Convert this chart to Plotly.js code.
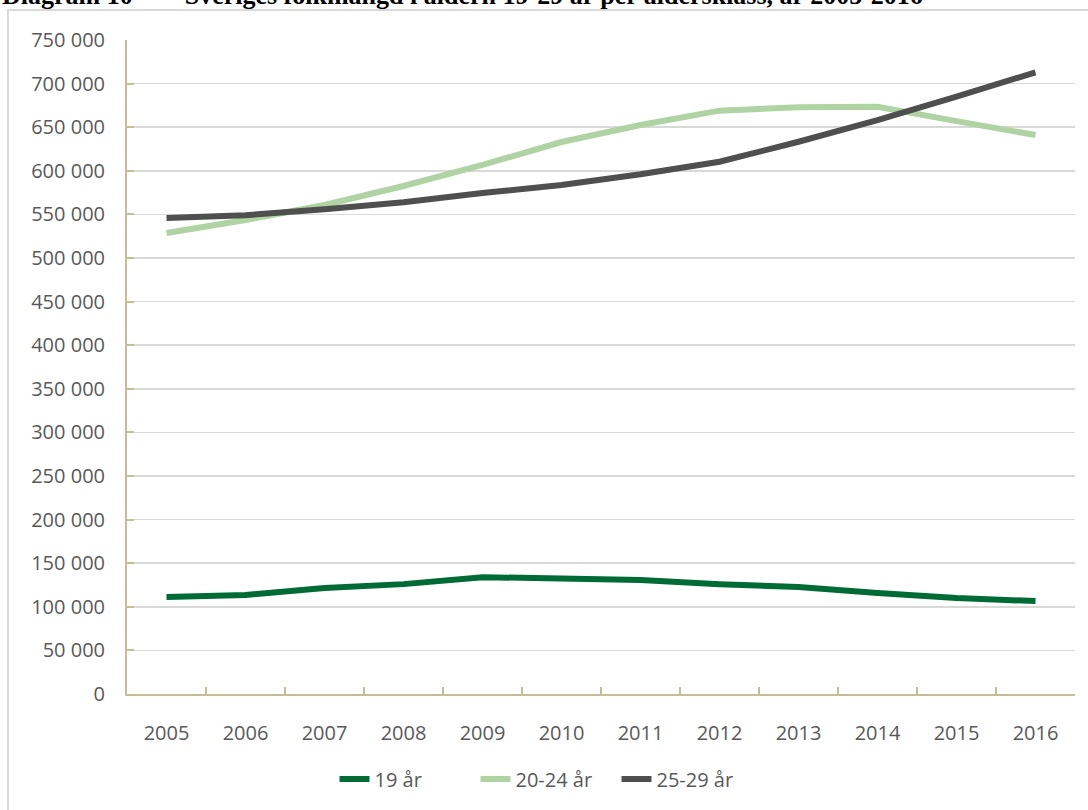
<!DOCTYPE html>
<html>
<head>
<meta charset="utf-8">
<script src="https://cdn.plot.ly/plotly-3.0.1.min.js"></script>
<style>html,body{margin:0;padding:0;background:#fff;}#chart{width:1088px;height:810px;}</style>
</head>
<body>
<div id="chart"></div>
<script>
const years = ['2005','2006','2007','2008','2009','2010','2011','2012','2013','2014','2015','2016'];
const age19 = [111200, 113500, 121600, 126000, 134000, 133000, 130700, 126000, 122700, 115800, 110000, 106600];
const age20_24 = [528700, 543600, 560800, 582600, 606700, 633000, 652500, 669000, 673000, 673500, 657000, 641000];
const age25_29 = [545900, 549000, 556000, 564000, 574500, 583700, 596000, 610400, 633300, 658000, 685000, 713000];
const seriesNames = ['19 år', '20-24 år', '25-29 år'];
const titleText = 'Diagram 10' + '\u00a0'.repeat(8) + 'Sveriges folkmängd i åldern 19-29 år per åldersklass, år 2005-2016';

const W = 948, H = 654, L = 127, T = 40;
const px = v => (v - L) / W;
const py = v => (T + H - v) / H;

const mk = (y, name, color) => ({
  x: years, y: y, name: name, type: 'scatter', mode: 'lines',
  line: {color: color, width: 6}
});

const data = [
  mk(age19, seriesNames[0], '#006b35'),
  mk(age20_24, seriesNames[1], '#afd3a3'),
  mk(age25_29, seriesNames[2], '#4f4f4f')
];

const tickFont = {family: 'Open Sans, Noto Sans, sans-serif', size: 20, color: '#595959'};

const layout = {
  width: 1088, height: 810,
  margin: {l: L, r: 1088 - L - W, t: T, b: 810 - T - H},
  paper_bgcolor: '#fff', plot_bgcolor: '#fff',
  separators: ', ',
  showlegend: true,
  legend: {orientation: 'h', x: px(546), xanchor: 'center', y: py(779), yanchor: 'middle',
           font: tickFont, entrywidth: 96, entrywidthmode: 'pixels', traceorder: 'normal'},
  xaxis: {
    type: 'category', range: [-0.5, 11.5], showgrid: false, zeroline: false,
    showline: true, linecolor: '#c4bd97', linewidth: 2,
    ticks: 'inside', tickson: 'boundaries', ticklen: 7, tickcolor: '#c4bd97', tickwidth: 2,
    tickfont: tickFont, ticklabelstandoff: 20, fixedrange: true
  },
  yaxis: {
    range: [0, 750000], dtick: 50000, tickformat: ',d',
    showgrid: true, gridcolor: '#d9d9d9', gridwidth: 1.5, zeroline: false,
    showline: true, linecolor: '#c4bd97', linewidth: 2,
    ticks: 'inside', ticklen: 7, tickcolor: '#c4bd97', tickwidth: 2,
    tickfont: tickFont, ticklabelstandoff: 16, fixedrange: true
  },
  shapes: [{
    type: 'rect', xref: 'paper', yref: 'paper',
    x0: px(8), x1: px(1110), y0: py(830), y1: py(10),
    line: {color: '#d9d9d9', width: 2}, fillcolor: 'rgba(0,0,0,0)', layer: 'below'
  }],
  annotations: [{
    text: '<b>' + titleText + '</b>', xref: 'paper', yref: 'paper',
    x: px(0), xanchor: 'left', y: py(-5), yanchor: 'middle', showarrow: false,
    font: {family: 'Liberation Serif, Times New Roman, serif', size: 26, color: '#000'}
  }]
};

Plotly.newPlot('chart', data, layout, {displayModeBar: false, staticPlot: true});
</script>
</body>
</html>
